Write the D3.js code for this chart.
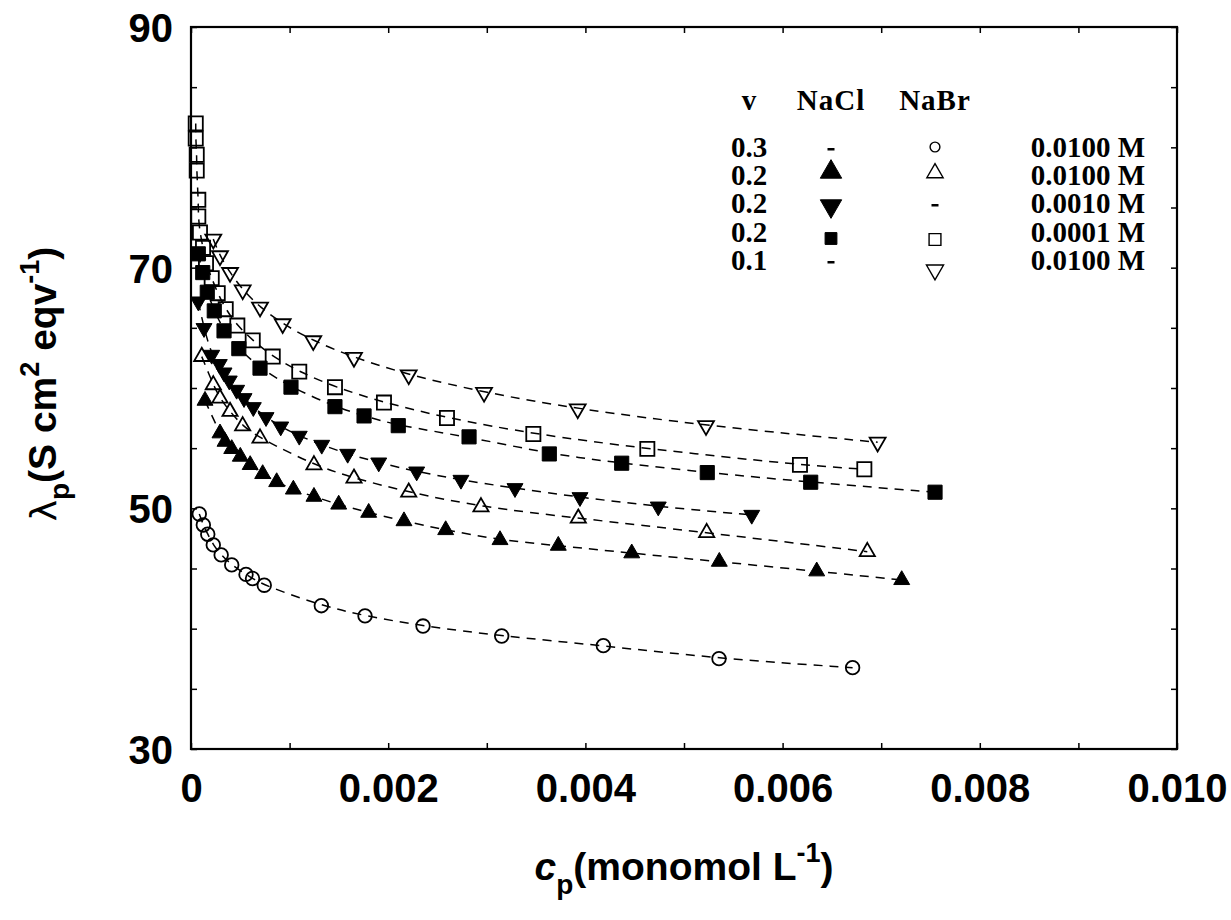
<!DOCTYPE html>
<html>
<head>
<meta charset="utf-8">
<script src="https://cdn.jsdelivr.net/npm/d3@7/dist/d3.min.js"></script>
<style>
  html, body { margin: 0; padding: 0; background: #fff; }
  svg { display: block; }
</style>
</head>
<body>
<svg id="chart" width="1231" height="920"></svg>
<script>
// ---------------- DATA ----------------
const xTickValues = [0, 0.002, 0.004, 0.006, 0.008, 0.010];
const xTickLabels = ["0", "0.002", "0.004", "0.006", "0.008", "0.010"];
const yTickValues = [30, 50, 70, 90];
const yTickLabels = ["30", "50", "70", "90"];

// v = 0.3, NaBr 0.0100 M (open circles)
const cCircle = [0.000084, 0.000125, 0.000170, 0.000226, 0.000306, 0.000413, 0.000558, 0.000624, 0.000743,
                 0.001322, 0.001765, 0.002353, 0.003151, 0.004182, 0.005355, 0.006710];
const lamCircle = [49.53, 48.62, 47.85, 46.96, 46.13, 45.30, 44.51, 44.17, 43.61,
                   41.91, 41.06, 40.22, 39.39, 38.59, 37.51, 36.76];

// v = 0.2, NaCl 0.0100 M (filled triangle up)
const cTriUpFilled = [0.000142, 0.000294, 0.000345, 0.000413, 0.000500, 0.000600, 0.000727, 0.000869, 0.001038,
                      0.001247, 0.001498, 0.001802, 0.002160, 0.002583, 0.003134, 0.003725, 0.004470, 0.005358,
                      0.006346, 0.007208];
const lamTriUpFilled = [58.95, 56.24, 55.54, 54.94, 54.30, 53.61, 52.86, 52.19, 51.57,
                        50.97, 50.32, 49.64, 48.94, 48.20, 47.37, 46.90, 46.27, 45.57,
                        44.77, 44.05];

// v = 0.2, NaBr 0.0100 M (open triangle up)
const cTriUpOpen = [0.000109, 0.000226, 0.000294, 0.000396, 0.000524, 0.000700, 0.001247, 0.001653, 0.002208,
                    0.002941, 0.003928, 0.005230, 0.006859];
const lamTriUpOpen = [62.61, 60.26, 59.15, 58.04, 56.85, 55.83, 53.61, 52.50, 51.34,
                      50.12, 49.18, 47.98, 46.40];

// v = 0.2, NaCl 0.0010 M (filled triangle down)
const cTriDownFilled = [0.000074, 0.000132, 0.000210, 0.000287, 0.000335, 0.000388, 0.000463, 0.000538, 0.000632,
                        0.000761, 0.000910, 0.001098, 0.001326, 0.001589, 0.001904, 0.002289, 0.002738, 0.003286,
                        0.003945, 0.004739, 0.005687];
const lamTriDownFilled = [67.18, 64.97, 62.75, 61.98, 61.28, 60.61, 59.84, 59.15, 58.40,
                          57.57, 56.79, 56.02, 55.27, 54.52, 53.80, 53.05, 52.36, 51.67,
                          50.92, 50.14, 49.45];

// v = 0.2, NaCl 0.0001 M (filled squares)
const cSquareFilled = [0.000074, 0.000119, 0.000165, 0.000236, 0.000335, 0.000485, 0.000700, 0.001014, 0.001460,
                       0.001755, 0.002102, 0.002820, 0.003634, 0.004368, 0.005236, 0.006285, 0.007546];
const lamSquareFilled = [71.15, 69.59, 67.96, 66.41, 64.75, 63.27, 61.65, 60.07, 58.45,
                         57.68, 56.87, 55.94, 54.52, 53.75, 52.97, 52.17, 51.34];

// v = 0.2, NaBr 0.0001 M (open squares)
const cSquareOpen = [0.000048, 0.000048, 0.000058, 0.000058, 0.000074, 0.000074, 0.000091, 0.000122, 0.000152,
                     0.000210, 0.000271, 0.000352, 0.000470, 0.000626, 0.000829, 0.001098, 0.001460, 0.001957,
                     0.002596, 0.003472, 0.004628, 0.006176, 0.006829];
const lamSquareOpen = [81.99, 80.73, 79.38, 78.07, 75.64, 74.25, 72.92, 71.65, 70.37,
                       69.13, 67.88, 66.55, 65.19, 63.96, 62.61, 61.36, 60.07, 58.79,
                       57.51, 56.18, 54.94, 53.61, 53.25];

// v = 0.1, NaBr 0.0100 M (open triangle down)
const cTriDownOpen = [0.000226, 0.000294, 0.000396, 0.000524, 0.000700, 0.000930, 0.001240, 0.001653, 0.002208,
                      0.002972, 0.003922, 0.005223, 0.006964];
const lamTriDownOpen = [72.37, 70.98, 69.59, 68.15, 66.72, 65.33, 63.92, 62.53, 61.09,
                        59.63, 58.26, 56.87, 55.49];

// legend table
const legendV = ["0.3", "0.2", "0.2", "0.2", "0.1"];
const legendNaCl = [null, "triUpFilled", "triDownFilled", "squareFilled", null];
const legendNaBr = ["circle", "triUpOpen", null, "squareOpen", "triDownOpen"];
const legendConc = ["0.0100 M", "0.0100 M", "0.0010 M", "0.0001 M", "0.0100 M"];

// ---------------- CHART ----------------
const svg = d3.select("#chart");
const L = 191, R = 1177, T = 27, B = 749;
const x = d3.scaleLinear().domain([0, 0.010]).range([L, R]);
const y = d3.scaleLinear().domain([30, 90]).range([B, T]);

const FONT = "'Liberation Sans', Arial, Helvetica, sans-serif";
const SERIF = "'Liberation Serif', 'Times New Roman', serif";

const markerDefs = {
  circle:        { type: d3.symbolCircle,   size: 145, fill: "none",  rot: 0 },
  triUpFilled:   { type: d3.symbolTriangle, size: 110, fill: "#000",  rot: 0 },
  triUpOpen:     { type: d3.symbolTriangle, size: 100, fill: "none",  rot: 0 },
  triDownFilled: { type: d3.symbolTriangle, size: 110, fill: "#000",  rot: 180 },
  triDownOpen:   { type: d3.symbolTriangle, size: 110, fill: "none",  rot: 180 },
  squareFilled:  { type: d3.symbolSquare,   size: 200, fill: "#000",  rot: 0 },
  squareOpen:    { type: d3.symbolSquare,   size: 200, fill: "none",  rot: 0 }
};

const series = [
  { xs: cCircle,        ys: lamCircle,        m: "circle" },
  { xs: cTriUpFilled,   ys: lamTriUpFilled,   m: "triUpFilled" },
  { xs: cTriUpOpen,     ys: lamTriUpOpen,     m: "triUpOpen" },
  { xs: cTriDownFilled, ys: lamTriDownFilled, m: "triDownFilled" },
  { xs: cSquareFilled,  ys: lamSquareFilled,  m: "squareFilled" },
  { xs: cSquareOpen,    ys: lamSquareOpen,    m: "squareOpen" },
  { xs: cTriDownOpen,   ys: lamTriDownOpen,   m: "triDownOpen" }
];

// dashed fit lines
const line = d3.line().x(d => x(d[0])).y(d => y(d[1])).curve(d3.curveBasis);
const gLines = svg.append("g");
series.forEach(s => {
  const pts = s.xs.map((v, i) => [v, s.ys[i]]);
  gLines.append("path")
    .attr("d", line(pts))
    .attr("fill", "none")
    .attr("stroke", "#000")
    .attr("stroke-width", 1.5)
    .attr("stroke-dasharray", "9,7");
});

// markers
function drawMarker(g, key, px, py, scale) {
  const md = markerDefs[key];
  const sym = d3.symbol().type(md.type).size(md.size * (scale || 1));
  g.append("path")
    .attr("d", sym())
    .attr("transform", `translate(${px},${py}) rotate(${md.rot})`)
    .attr("fill", md.fill)
    .attr("stroke", "#000")
    .attr("stroke-width", md.fill === "none" ? 1.8 : 1);
}
const gMarks = svg.append("g");
series.forEach(s => {
  s.xs.forEach((v, i) => drawMarker(gMarks, s.m, x(v), y(s.ys[i])));
});

// axes: minor inward ticks
const xMinor = d3.range(0, 11).map(i => i * 0.001);
const yMinor = d3.range(30, 91, 5);
svg.append("g").attr("transform", `translate(0,${B})`)
  .call(d3.axisBottom(x).tickValues(xMinor).tickSize(-6).tickFormat("").tickSizeOuter(0))
  .call(g => g.select(".domain").remove());
svg.append("g").attr("transform", `translate(0,${T})`)
  .call(d3.axisTop(x).tickValues(xMinor).tickSize(-6).tickFormat("").tickSizeOuter(0))
  .call(g => g.select(".domain").remove());
svg.append("g").attr("transform", `translate(${L},0)`)
  .call(d3.axisLeft(y).tickValues(yMinor).tickSize(-6).tickFormat("").tickSizeOuter(0))
  .call(g => g.select(".domain").remove());
svg.append("g").attr("transform", `translate(${R},0)`)
  .call(d3.axisRight(y).tickValues(yMinor).tickSize(-6).tickFormat("").tickSizeOuter(0))
  .call(g => g.select(".domain").remove());
svg.selectAll(".tick line").attr("stroke", "#000").attr("stroke-width", 1.5);

// frame
svg.append("rect")
  .attr("x", L).attr("y", T).attr("width", R - L).attr("height", B - T)
  .attr("fill", "none").attr("stroke", "#000").attr("stroke-width", 2.2);

// tick labels
const xLab = svg.append("g").attr("transform", `translate(0,${B})`)
  .call(d3.axisBottom(x).tickValues(xTickValues).tickSize(0).tickPadding(0)
    .tickFormat((d, i) => xTickLabels[i]));
xLab.select(".domain").remove();
xLab.selectAll("text").attr("y", 53).attr("dy", 0)
  .attr("font-family", FONT).attr("font-size", 40).attr("font-weight", "bold").attr("fill", "#000");

const yLab = svg.append("g").attr("transform", `translate(${L},0)`)
  .call(d3.axisLeft(y).tickValues(yTickValues).tickSize(0).tickPadding(0)
    .tickFormat((d, i) => yTickLabels[i]));
yLab.select(".domain").remove();
yLab.selectAll("text").attr("x", -18).attr("dy", "0.36em")
  .attr("font-family", FONT).attr("font-size", 40).attr("font-weight", "bold").attr("fill", "#000");

// x title
const xt = svg.append("text")
  .attr("x", (L + R) / 2).attr("y", 880)
  .attr("text-anchor", "middle")
  .attr("font-family", FONT).attr("font-weight", "bold").attr("font-size", 39).attr("fill", "#000");
xt.append("tspan").attr("font-style", "italic").text("c");
xt.append("tspan").attr("font-size", 28).attr("dy", 14).text("p");
xt.append("tspan").attr("dy", -14).text("(monomol L");
xt.append("tspan").attr("font-size", 27).attr("dy", -18).text("-1");
xt.append("tspan").attr("dy", 18).text(")");

// y title
const yt = svg.append("text")
  .attr("transform", `translate(56,${(T + B) / 2 - 4}) rotate(-90)`)
  .attr("text-anchor", "middle")
  .attr("font-family", FONT).attr("font-weight", "bold").attr("font-size", 39).attr("fill", "#000");
yt.append("tspan").attr("font-weight", "normal").attr("font-family", "'DejaVu Sans', sans-serif").attr("font-size", 36).text("λ");
yt.append("tspan").attr("font-size", 28).attr("dy", 13).text("p");
yt.append("tspan").attr("dy", -13).text("(S cm");
yt.append("tspan").attr("font-size", 27).attr("dy", -17).text("2");
yt.append("tspan").attr("dy", 17).text(" eqv");
yt.append("tspan").attr("font-size", 27).attr("dy", -17).text("-1");
yt.append("tspan").attr("dy", 17).text(")");

// legend table
const lg = svg.append("g")
  .attr("font-family", SERIF).attr("font-weight", "bold").attr("font-size", 29).attr("fill", "#000");
const colV = 749, colNaCl = 831, colNaBr = 935, colConcEnd = 1145;
const headY = 110;
const rowY = [157, 185, 213, 241.5, 270];
lg.append("text").attr("x", colV).attr("y", headY).attr("text-anchor", "middle").text("v");
lg.append("text").attr("x", colNaCl).attr("y", headY).attr("text-anchor", "middle").attr("letter-spacing", 1).text("NaCl");
lg.append("text").attr("x", colNaBr).attr("y", headY).attr("text-anchor", "middle").attr("letter-spacing", 1).text("NaBr");
const legSymScale = { circle: 0.52, triUpFilled: 1.8, triUpOpen: 1.15, triDownFilled: 1.8, triDownOpen: 1.15, squareFilled: 0.7, squareOpen: 0.7 };
const legSymDy = { circle: -10, triUpFilled: -13, triUpOpen: -12, triDownFilled: -7, triDownOpen: 0, squareFilled: -3, squareOpen: -2 };
legendV.forEach((v, i) => {
  const yy = rowY[i];
  lg.append("text").attr("x", colV).attr("y", yy).attr("text-anchor", "middle").text(v);
  lg.append("text").attr("x", colConcEnd).attr("y", yy).attr("text-anchor", "end").text(legendConc[i]);
  [[legendNaCl[i], colNaCl], [legendNaBr[i], colNaBr]].forEach(([k, cx]) => {
    if (k) {
      drawMarker(lg, k, cx, yy + legSymDy[k], legSymScale[k]);
    } else {
      lg.append("rect").attr("x", cx - 3.5).attr("y", yy - 9).attr("width", 7).attr("height", 2.5).attr("fill", "#000");
    }
  });
});
lg.selectAll("path").attr("stroke-width", function() { return d3.select(this).attr("fill") === "none" ? 1.4 : 1; });
</script>
</body>
</html>
